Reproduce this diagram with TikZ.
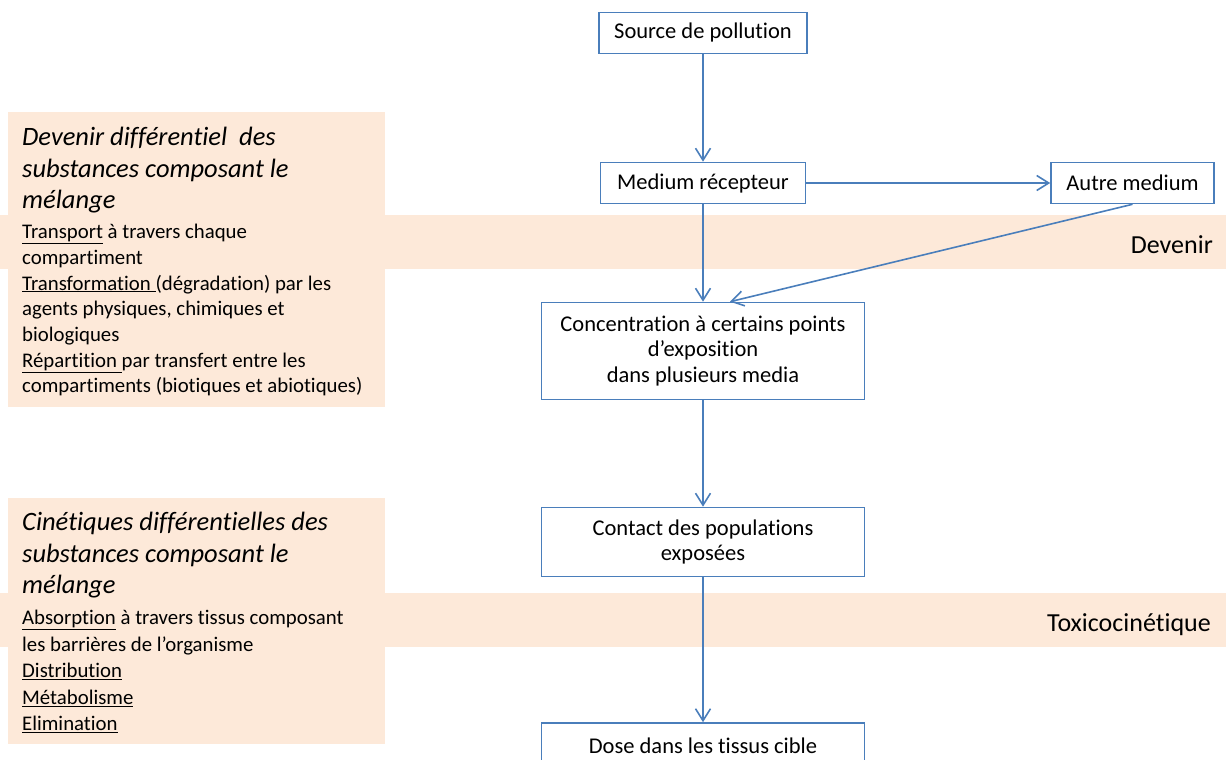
\documentclass[tikz,border=0pt]{standalone}
\usepackage{fontspec}
\setmainfont{Carlito}[Ligatures={NoCommon}]
\usepackage{xcolor}
\usetikzlibrary{arrows.meta,calc,positioning}
\definecolor{peach}{HTML}{FDE9D9}
\definecolor{lineblue}{HTML}{4A7EBB}
\tikzset{%
	block/.style = {draw=lineblue, line width=1.6pt, fill=white, rectangle, align=center, font=\fontsize{22.5}{25.5}\selectfont}, % flow box
	band/.style  = {fill=peach}, % stripe
	panel/.style = {fill=peach}, % side panel
	tag/.style   = {anchor=base east, inner sep=0pt, font=\fontsize{26}{30}\selectfont}, % stripe label
	head/.style  = {anchor=north west, align=left, inner sep=0pt, font=\fontsize{26.5}{31.5}\selectfont\itshape},
	body/.style  = {anchor=north west, align=left, inner sep=0pt, font=\fontsize{20.8}{25.7}\selectfont},
	link/.style  = {draw=lineblue, line width=1.6pt, -{Straight Barb[length=12pt,width=15pt]}},
}

\begin{document}
\begin{tikzpicture}[x=1pt, y=-1pt]
	\useasboundingbox (0,0) rectangle (1226,760);
	% stripes and side panels
	\fill[band] (0,215) rectangle (1226,269);
	\fill[band] (0,593) rectangle (1226,647);
	\fill[panel] (8,112) rectangle (385,407);
	\fill[panel] (8,498) rectangle (385,744);
	\node[tag] (devenir) at (1213,253) {Devenir};
	\node[tag] (toxico) at (1211,631) {Toxicocinétique};
	\node[head] (h1) at (22,127) {Devenir différentiel\ \ des\\substances composant le\\mélange};
	\node[body] (b1) at (22,224) {\underline{Transport} à travers chaque\\compartiment\\\underline{Transformation\ }(dégradation) par les\\agents physiques, chimiques et\\biologiques\\\underline{Répartition\ }par transfert entre les\\compartiments (biotiques et abiotiques)};
	\node[head] (h2) at (22,512) {Cinétiques différentielles des\\substances composant le\\mélange};
	\node[body, font=\fontsize{20.8}{26.5}\selectfont] (b2) at (22,610) {\underline{Absorption} à travers tissus composant\\les barrières de l’organisme\\\underline{Distribution}\\\underline{Métabolisme}\\\underline{Elimination}};
	% flow
	\node[block, minimum width=208pt, minimum height=41pt] (src) at (703,33) {Source de pollution};
	\node[block, minimum width=205pt, minimum height=41pt] (med) at (703,183) {Medium récepteur};
	\node[block, minimum width=163pt, minimum height=41pt] (autre) at (1132.5,183) {Autre medium};
	\node[block, minimum width=323pt, minimum height=97pt] (conc) at (703,351) {Concentration à certains points\\d’exposition\\dans plusieurs media};
	\node[block, minimum width=323pt, minimum height=69pt] (contact) at (703,542) {Contact des populations\\exposées};
	\node[block, minimum width=323pt, minimum height=46pt] (dose) at (703,746) {Dose dans les tissus cible};
	\draw[link] (src) -- (med);
	\draw[link] (med) -- (autre);
	\draw[link] (med) -- (conc);
	\draw[link] (autre.south) -- ([xshift=27pt]conc.north);
	\draw[link] (conc) -- (contact);
	\draw[link] (contact) -- (dose);
\end{tikzpicture}
\end{document}
